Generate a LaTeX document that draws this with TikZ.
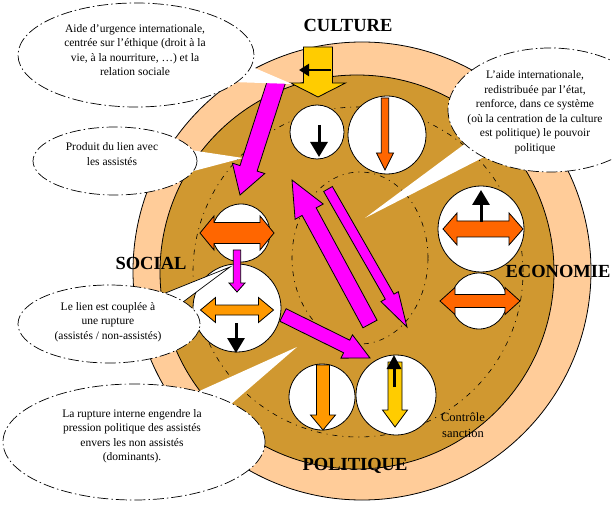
\documentclass[tikz,border=0pt]{standalone}
\usepackage{fontspec}
\setmainfont{Liberation Serif}
\usetikzlibrary{calc,arrows.meta,shapes.geometric}
\definecolor{peach}{HTML}{FFCC99}
\definecolor{ocre}{RGB}{208,152,48}
\definecolor{mag}{HTML}{FF00FF}
\definecolor{orng}{HTML}{FF6600}
\definecolor{lorng}{HTML}{FF9900}
\definecolor{gold}{HTML}{FFCC00}

% block arrow: tail, tip, shaft half width, head half width, head length, style
\newcommand{\barrow}[6]{%
  \coordinate (ba) at (#1); \coordinate (bb) at (#2);
  \coordinate (bh) at ($(bb)!#5!(ba)$);
  \filldraw[#6] ($(ba)!#3!90:(bb)$) -- ($(bh)!#3!90:(bb)$) -- ($(bh)!#4!90:(bb)$) -- (bb)
    -- ($(bh)!#4!-90:(bb)$) -- ($(bh)!#3!-90:(bb)$) -- ($(ba)!#3!-90:(bb)$) -- cycle;}
% horizontal double block arrow: centre, half length, shaft half, head half, head length, style
\newcommand{\dbarrow}[6]{%
  \coordinate (dc) at (#1);
  \filldraw[#6] ($(dc)+(-#2,0)$) -- ++(#5,#4) -- ++(0,#3-#4) -- ++(2*#2-2*#5,0) -- ++(0,#4-#3)
    -- ($(dc)+(#2,0)$) -- ++(-#5,-#4) -- ++(0,#4-#3) -- ++(2*#5-2*#2,0) -- ++(0,#3-#4) -- cycle;}

\begin{document}
\begin{tikzpicture}[x=1pt,y=-1pt,
  bubble/.style={ellipse,draw,fill=white,line width=.7pt,dash pattern=on 11pt off 3pt on 1.5pt off 3pt,inner sep=0pt},
  note/.style={align=center,font=\fontsize{11.5}{14.5}\selectfont,inner sep=0pt},
  pole/.style={font=\bfseries\fontsize{18.5}{20}\selectfont,inner sep=0pt},
  hole/.style={circle,draw,fill=white,line width=.8pt,inner sep=0pt},
  blk/.style={line width=3pt,-{Triangle[length=15pt,width=17pt]}},
  bar/.style={draw=black,line width=.8pt},
  wedge/.style={fill=white},
  dd/.style={line width=.6pt,dash pattern=on 5pt off 5pt on 1pt off 5pt}]
  \useasboundingbox (0,0) rectangle (612,510);
  \clip (0,0) rectangle (612,510);
  \filldraw[fill=peach,line width=.8pt] (362,271) circle (229pt);
  \filldraw[fill=ocre,line width=.8pt] (357,272) circle (197pt);
  \draw[dd] (360,258) ellipse [x radius=68pt,y radius=86pt];
  \draw[dd] (358,272) circle (165pt);

  \node[hole,minimum size=54pt] (cu1) at (317,132) {};
  \node[hole,minimum size=78pt] (cu2) at (387,135) {};
  \node[hole,minimum size=58pt] (so1) at (241,233) {};
  \node[hole,minimum size=88pt] (so2) at (237,308) {};
  \node[hole,minimum size=86pt] (ec1) at (481,229) {};
  \node[hole,minimum size=56pt] (ec2) at (479,301) {};
  \node[hole,minimum size=66pt] (po1) at (322,397) {};
  \node[hole,minimum size=80pt] (po2) at (396,395) {};

  \draw[blk] ($(cu1)+(2,-7)$) -- ($(cu1)+(2,25)$);
  \barrow{$(cu2)+(-2,-37)$}{$(cu2)+(-2,35)$}{3.7pt}{8.5pt}{17pt}{bar,fill=orng}
  \dbarrow{$(so1)+(-4,0)$}{37}{10.5}{17}{14}{bar,fill=orng}
  \barrow{$(so1)+(-4,17)$}{$(so2)+(0,-16)$}{3.7pt}{8pt}{9pt}{bar,fill=mag}
  \dbarrow{$(so2)+(0,2)$}{36.5}{5}{12.5}{15}{bar,fill=lorng}
  \draw[blk] ($(so2)+(-1,15)$) -- ($(so2)+(-1,45)$);
  \dbarrow{$(ec1)+(2,0)$}{40}{8}{16}{14}{bar,fill=orng}
  \draw[blk] ($(ec1)+(0,-7)$) -- ($(ec1)+(0,-39)$);
  \dbarrow{$(ec2)+(1,0)$}{40}{6.5}{13.5}{15}{bar,fill=orng}
  \barrow{$(po1)+(1,-32)$}{$(po1)+(1,33)$}{6.5pt}{12.5pt}{15pt}{bar,fill=lorng}
  \barrow{$(po2)+(-1,-33)$}{$(po2)+(-1,32)$}{7pt}{12.5pt}{17pt}{bar,fill=gold}
  \draw[blk,-{Triangle[length=14pt,width=14pt]}] ($(po2)+(-2,-8)$) -- ($(po2)+(-2,-40)$);

  \coordinate (cy0) at (318,47); \coordinate (cy1) at (318,97);
  \barrow{cy0}{cy1}{14.5pt}{27.5pt}{14pt}{bar,fill=gold}
  \draw[blk,line width=2.5pt,-{Triangle[length=10pt,width=12pt]}] ($(cy0)+(13,23)$) -- ($(cy0)+(-19,23)$);

  \coordinate (ma0) at (277,80);  \coordinate (ma1) at (240,195);
  \coordinate (mb0) at (370,324); \coordinate (mb1) at (292,180);
  \coordinate (mc0) at (328,189); \coordinate (mc1) at (407,327);
  \coordinate (md0) at (283,315); \coordinate (md1) at (370,358);
  \barrow{ma0}{ma1}{9pt}{17pt}{28pt}{bar,fill=mag}
  \barrow{mb0}{mb1}{8pt}{16pt}{36pt}{bar,fill=mag}
  \barrow{mc0}{mc1}{5pt}{10pt}{35pt}{bar,fill=mag}
  \barrow{md0}{md1}{7pt}{13pt}{26pt}{bar,fill=mag}

  \fill[wedge] (250,66) -- (292,84) -- (232,82) -- cycle;
  \node[bubble,minimum width=236pt,minimum height=104pt] (bA) at (136,55) {};
  \node[note] (tA) at (135,50) {Aide d’urgence internationale,\\centrée sur l’éthique (droit à la\\vie, à la nourriture, …) et la\\relation sociale};
  \fill[wedge] (466,143) -- (365,218) -- (488,155) -- cycle;
  \node[bubble,minimum width=204pt,minimum height=124pt] (bB) at (550,110) {};
  \node[note] (tB) at (535,112) {L’aide internationale,\\redistribuée par l’état,\\renforce, dans ce système\\(où la centration de la culture\\est politique) le pouvoir\\politique};
  \fill[wedge] (190,150) -- (243,158) -- (190,172) -- cycle;
  \node[bubble,minimum width=164pt,minimum height=68pt] (bC) at (115,161) {};
  \node[note] (tC) at (112,154) {Produit du lien avec\\les assistés};
  \filldraw[wedge,draw=black,line width=.7pt] (163,294) -- (230,267) -- (183,302) -- cycle;
  \node[bubble,minimum width=182pt,minimum height=78pt] (bD) at (109,324) {};
  \node[note] (tD) at (108,322) {Le lien est couplée à\\une rupture\\(assistés / non-assistés)};
  \fill[wedge] (195,393) -- (297,347) -- (230,405) -- cycle;
  \node[bubble,minimum width=262pt,minimum height=116pt] (bE) at (134,442) {};
  \node[note] (tE) at (132,436) {La rupture interne engendre la\\pression politique des assistés\\envers les non assistés\\(dominants).};

  \node[pole] (cul) at (348,25) {CULTURE};
  \node[pole] (soc) at (151,263) {SOCIAL};
  \node[pole] (eco) at (558,271) {ECONOMIE};
  \node[pole] (pol) at (355,466) {POLITIQUE};
  \node[note,font=\fontsize{12.5}{16}\selectfont] (ctl) at (463,425) {Contrôle\\sanction};
\end{tikzpicture}
\end{document}
